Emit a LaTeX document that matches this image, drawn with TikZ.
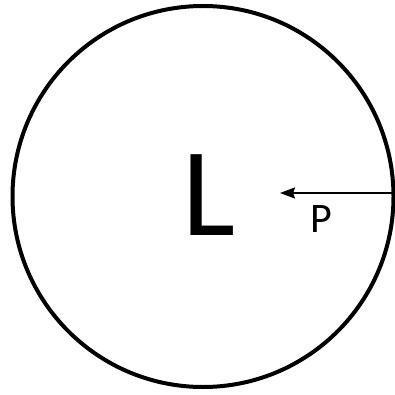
\documentclass[tikz,border=0pt]{standalone}
\usepackage{fontspec}
\setmainfont{Carlito}
\usetikzlibrary{arrows.meta}
\begin{document}
\begin{tikzpicture}[x=1pt,y=-1pt,
  ring/.style={circle,draw=black,line width=4pt,minimum size=381pt,inner sep=0pt},
  force/.style={line width=2pt,-{Stealth[length=15pt,width=11pt,inset=2pt]}},
  biglabel/.style={inner sep=0pt,font=\fontsize{126}{130}\selectfont},
  smalllabel/.style={inner sep=0pt,font=\fontsize{42}{46}\selectfont}]
\useasboundingbox (0,0) rectangle (395,395);
\node[ring] (c) at (203,196.5) {};
\node[biglabel] (L) at (209,195) {L};
\coordinate (ps) at (393,193);
\coordinate (pe) at (280,193);
\draw[force] (ps) -- (pe);
\node[smalllabel] (P) at (321,219.5) {P};
\end{tikzpicture}
\end{document}
